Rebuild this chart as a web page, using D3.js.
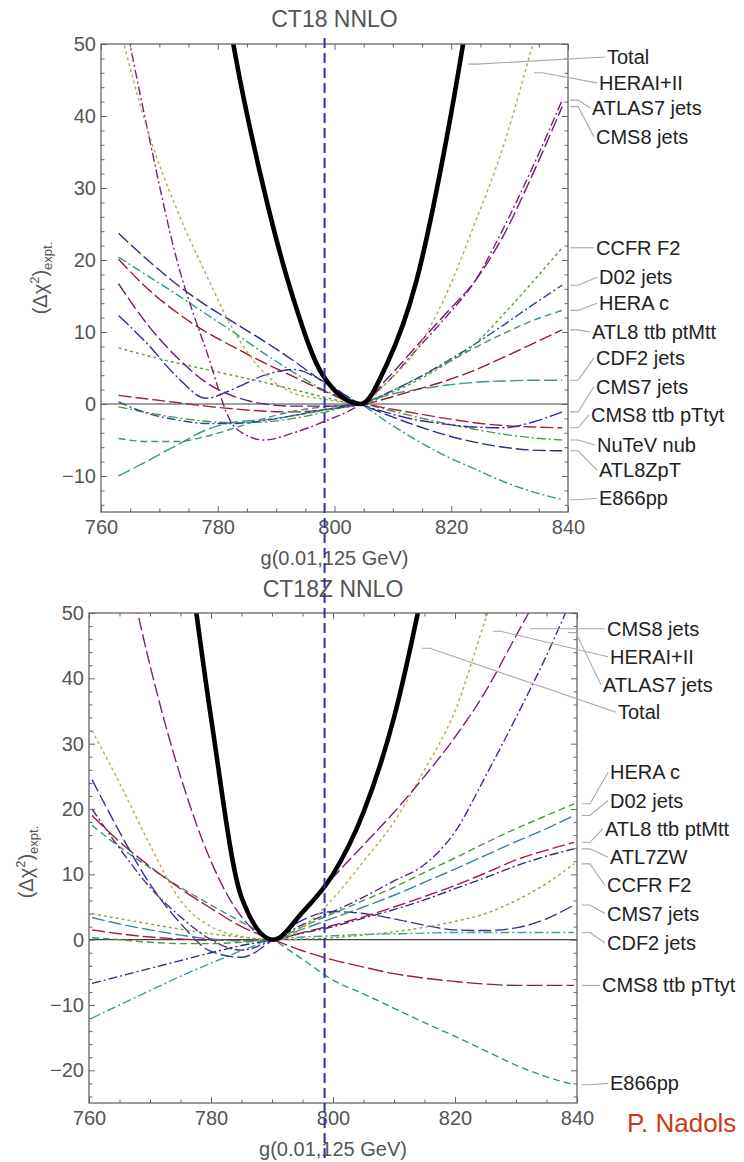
<!DOCTYPE html>
<html>
<head>
<meta charset="utf-8">
<script src="https://cdnjs.cloudflare.com/ajax/libs/d3/7.8.5/d3.min.js"></script>
<style>
  body { margin: 0; background: #fff; }
  svg { display: block; font-family: "Liberation Sans", Arial, sans-serif; }
</style>
</head>
<body>
<svg id="chart" width="744" height="1162"></svg>
<script>
// ---- data ----
const xTicks = [760, 780, 800, 820, 840];
const vLineX = 798.3;

// CT18 NNLO
const topGrid = [763, 768, 773, 778, 783, 788, 793, 798, 804.5, 809, 814, 819, 824, 829, 834, 839];
const topNames = ['Total', 'HERAI+II', 'ATLAS7 jets', 'CMS8 jets', 'CCFR F2', 'D02 jets', 'HERA c',
  'ATL8 ttb ptMtt', 'CDF2 jets', 'CMS7 jets', 'CMS8 ttb pTtyt', 'NuTeV nub', 'ATL8ZpT', 'E866pp'];
const topValues = [
  [180, 139, 104, 74, 48.5, 29.5, 14.5, 4, 0, 5.6, 17, 36, 60, 88, 118, 150],
  [53, 38, 27, 18, 9.8, 4.3, 1.5, 0.7, 0, 3, 7.5, 15, 25, 36, 50, 64],
  [58, 38, 20, 7.5, -3.3, -5, -4, -2.5, 0, 3, 7.5, 12, 17, 24.5, 33, 42.2],
  [16.7, 11, 6.5, 3, 1, 0, -0.3, -0.3, 0, 3.5, 8, 12.5, 17, 23.5, 32, 41.3],
  [7.8, 6.7, 5.7, 4.8, 3.9, 3, 2, 1, 0, 1.3, 3.2, 5.5, 8.3, 12.5, 17, 21.7],
  [0.3, -1.3, -2.2, -2.7, -2.7, -2.3, -1.6, -0.8, 0, 1.5, 3.5, 5.8, 8.3, 11, 13.8, 16.5],
  [-4.8, -5.2, -5.2, -4.5, -3.3, -2, -1, -0.4, 0, 1.5, 3.5, 5.6, 7.8, 9.8, 11.6, 13],
  [20.1, 16, 12.7, 10, 7.8, 5.7, 3.8, 1.9, 0, 0.8, 2, 3.2, 4.7, 6.5, 8.4, 10.3],
  [-10, -7.9, -5.7, -3.6, -2.5, -2.2, -1.6, -0.9, 0, 1.2, 2, 2.6, 3, 3.2, 3.3, 3.3],
  [12.3, 8.3, 3.8, 0.8, 2.2, 4, 4.8, 3.2, 0, -1.2, -2.2, -2.8, -3.2, -3.3, -2.5, -1.1],
  [1.2, 0.7, 0.2, -0.3, -0.7, -1, -1.1, -0.8, 0, -0.6, -1.3, -2, -2.6, -3, -3.2, -3.3],
  [-0.4, -1.2, -1.9, -2.4, -2.6, -2.5, -2, -1.2, 0, -0.8, -1.8, -2.7, -3.5, -4.2, -4.7, -5],
  [23.7, 20, 16.6, 13.7, 11.2, 8.7, 6, 3.1, 0, -1.5, -3, -4.3, -5.3, -6, -6.4, -6.5],
  [20.4, 17.8, 15.2, 12.5, 9.8, 7, 4.4, 2, 0, -2.5, -5, -7.2, -9, -10.8, -12.2, -13.3]
];

// CT18Z NNLO
const botGrid = [760.5, 765, 770, 775, 780, 785, 790.2, 795, 800, 805, 810, 815, 820, 825, 830, 835, 839.5];
const botNames = ['Total', 'CMS8 jets', 'HERAI+II', 'ATLAS7 jets', 'HERA c', 'D02 jets', 'ATL8 ttb ptMtt',
  'ATL7ZW', 'CCFR F2', 'CMS7 jets', 'CDF2 jets', 'CMS8 ttb pTtyt', 'E866pp'];
const botValues = [
  [165, 130, 100, 68, 34, 6.5, 0, 4.2, 10, 19.5, 34, 55, 80, 108, 138, 168, 195],
  [85, 63, 42, 25, 12, 3.5, 0, 4, 9.5, 14.5, 19.5, 25, 31, 38, 46.5, 55, 63],
  [32, 24, 14.5, 6, 2, 0.5, 0, 1.8, 6.3, 12, 18, 26, 35, 49, 62, 76, 90],
  [20, 14, 8, 3.5, 0, -1.6, 0, 2.3, 4.3, 6.5, 9, 11.5, 16.5, 25, 34, 43.5, 53],
  [0.3, 0, -0.4, -0.6, -0.6, -0.4, 0, 2, 4, 6, 8, 10.3, 12.5, 14.8, 17, 19, 20.8],
  [3.4, 2.4, 1.5, 0.7, 0.1, -0.2, 0, 1.6, 3.3, 5, 6.8, 8.8, 10.8, 12.9, 15, 17, 19],
  [1.5, 0.9, 0.4, 0.1, -0.1, -0.1, 0, 1.1, 2.2, 3.5, 5, 6.6, 8.3, 10.2, 12.2, 13.7, 14.9],
  [-6.7, -5.6, -4.4, -3.2, -2, -0.9, 0, 1, 2, 3.3, 4.6, 6.1, 7.8, 9.5, 11.3, 12.8, 13.9],
  [4, 3.2, 2.4, 1.6, 0.9, 0.4, 0, 0.1, 0.3, 0.7, 1.2, 1.9, 2.8, 4, 6, 8.6, 11.6],
  [24.5, 16.5, 8.5, 2.5, -1.8, -2.7, 0, 3, 4.3, 4, 3.2, 2.2, 1.5, 1.4, 1.8, 3.2, 5.3],
  [-12, -10, -7.8, -5.6, -3.6, -1.7, 0, 0.4, 0.6, 0.8, 0.9, 1, 1.1, 1.1, 1.1, 1.1, 1.1],
  [19, 15, 11.2, 7.8, 4.8, 2, 0, -1.7, -3.1, -4.2, -5.2, -5.9, -6.4, -6.8, -7, -7, -7],
  [17.5, 14.2, 11, 8, 5.3, 2.7, 0, -3, -6.2, -8.3, -10.5, -12.7, -14.8, -17, -19.2, -21, -22.2]
];

// ---- look: colour, dash, width per curve ----
const DOT = '3,3', DASH = '7,4', LONG = '13,4', DDOT = '9,3,2,3', LDDOT = '14,3,2,3';
const topStyle = {
  'Total': ['#000', null, 4.6],
  'HERAI+II': ['#b5ad4a', DOT, 1.4],
  'ATLAS7 jets': ['#7a2478', DDOT, 1.4],
  'CMS8 jets': ['#6b1f70', LONG, 1.4],
  'CCFR F2': ['#5a9a3c', DOT, 1.4],
  'D02 jets': ['#2f4590', DDOT, 1.4],
  'HERA c': ['#3a9475', DASH, 1.4],
  'ATL8 ttb ptMtt': ['#8e1d33', LONG, 1.4],
  'CDF2 jets': ['#3a9596', LONG, 1.4],
  'CMS7 jets': ['#3b2a8c', LDDOT, 1.4],
  'CMS8 ttb pTtyt': ['#a02244', LONG, 1.4],
  'NuTeV nub': ['#4c9a45', DDOT, 1.4],
  'ATL8ZpT': ['#2a2c86', LONG, 1.4],
  'E866pp': ['#2f9a8c', DDOT, 1.4]
};
const botStyle = {
  'Total': ['#000', null, 4.6],
  'CMS8 jets': ['#7a2478', LONG, 1.4],
  'HERAI+II': ['#b5ad4a', DOT, 1.4],
  'ATLAS7 jets': ['#5e2482', DDOT, 1.4],
  'HERA c': ['#459a3c', DASH, 1.4],
  'D02 jets': ['#3a85a0', LONG, 1.4],
  'ATL8 ttb ptMtt': ['#a02040', LONG, 1.4],
  'ATL7ZW': ['#2a2c86', DDOT, 1.4],
  'CCFR F2': ['#8aaa3c', DOT, 1.4],
  'CMS7 jets': ['#35349a', LONG, 1.4],
  'CDF2 jets': ['#3aa0a0', DDOT, 1.4],
  'CMS8 ttb pTtyt': ['#98203c', '16,4', 1.4],
  'E866pp': ['#30958a', DASH, 1.4]
};

// callouts: [label, anchor (data x,y) or null = end of curve, label y (data), label offset px]
const topCallouts = [
  ['Total', [822.9, 47.2], 48.2, 39], ['HERAI+II', [834.2, 46], 44.6, 31],
  ['ATLAS7 jets', null, 41.1, 24], ['CMS8 jets', null, 37.1, 28],
  ['CCFR F2', null, 21.7, 28], ['D02 jets', null, 17.6, 31], ['HERA c', null, 14, 31],
  ['ATL8 ttb ptMtt', null, 10, 24], ['CDF2 jets', null, 6.4, 28], ['CMS7 jets', null, 2.4, 28],
  ['CMS8 ttb pTtyt', null, -1.5, 23], ['NuTeV nub', null, -5.7, 29],
  ['ATL8ZpT', null, -9.2, 31], ['E866pp', null, -13.1, 31]
];
const botCallouts = [
  ['CMS8 jets', [832.3, 47.6], 47.6, 30], ['HERAI+II', [826.2, 47.2], 43.3, 33],
  ['ATLAS7 jets', [838.5, 47], 39, 26], ['Total', [814.6, 44.6], 34.8, 41],
  ['HERA c', null, 25.6, 33], ['D02 jets', null, 21.3, 33], ['ATL8 ttb ptMtt', null, 17, 28],
  ['ATL7ZW', null, 12.6, 33], ['CCFR F2', null, 8.3, 30], ['CMS7 jets', null, 4, 30],
  ['CDF2 jets', null, -0.5, 30], ['CMS8 ttb pTtyt', null, -7, 25], ['E866pp', null, -22, 33]
];

const svg = d3.select('#chart');
const GREY = '#555';

function drawPanel(p) {
  const g = svg.append('g');
  const x = d3.scaleLinear().domain([760, 840]).range([p.left, p.right]);
  const y = d3.scaleLinear().domain(p.yDomain).range([p.bottom, p.top]);

  svg.append('clipPath').attr('id', 'clip-' + p.id)
    .append('rect')
    .attr('x', p.left).attr('y', p.top)
    .attr('width', p.right - p.left).attr('height', p.bottom - p.top);

  // zero line
  g.append('line')
    .attr('x1', p.left).attr('x2', p.right)
    .attr('y1', y(0)).attr('y2', y(0))
    .attr('stroke', '#444').attr('stroke-width', 1.2);

  const line = d3.line()
    .x((d, i) => x(p.grid[i]))
    .y(d => y(d))
    .curve(d3.curveMonotoneX);

  const curves = g.append('g').attr('clip-path', 'url(#clip-' + p.id + ')');
  // draw the thin ones first so the Total sits on top
  const order = d3.range(p.names.length).reverse();
  curves.selectAll('path')
    .data(order)
    .enter()
    .append('path')
    .attr('d', i => line(p.values[i]))
    .attr('fill', 'none')
    .attr('stroke', i => p.style[p.names[i]][0])
    .attr('stroke-dasharray', i => p.style[p.names[i]][1])
    .attr('stroke-width', i => p.style[p.names[i]][2])
    .attr('stroke-linejoin', 'round');

  // frame + inward ticks on all four sides
  const xMinor = d3.range(765, 840, 5).filter(v => v % 20 !== 0);
  const yMajor = d3.range(p.yDomain[0] % 10 === 0 ? p.yDomain[0] : p.yDomain[0] + 5, p.yDomain[1] + 1, 10);
  const yMinor = d3.range(Math.ceil(p.yDomain[0] / 2) * 2, p.yDomain[1], 2).filter(v => v % 10 !== 0);
  const fmt = d3.format('d');

  function styleAxis(sel) {
    sel.select('.domain').remove();
    sel.selectAll('line').attr('stroke', '#666').attr('stroke-width', 1);
    sel.selectAll('text').attr('fill', GREY).style('font-size', '20px')
      .style('font-family', '"Liberation Sans", Arial, sans-serif');
  }

  const axes = [
    [d3.axisBottom(x).tickValues(xTicks).tickSize(-6).tickPadding(8).tickFormat(fmt), 0, p.bottom],
    [d3.axisBottom(x).tickValues(xMinor).tickSize(-3.5).tickFormat(''), 0, p.bottom],
    [d3.axisTop(x).tickValues(xTicks).tickSize(-6).tickFormat(''), 0, p.top],
    [d3.axisTop(x).tickValues(xMinor).tickSize(-3.5).tickFormat(''), 0, p.top],
    [d3.axisLeft(y).tickValues(yMajor).tickSize(-6).tickPadding(5).tickFormat(fmt), p.left, 0],
    [d3.axisLeft(y).tickValues(yMinor).tickSize(-3.5).tickFormat(''), p.left, 0],
    [d3.axisRight(y).tickValues(yMajor).tickSize(-6).tickFormat(''), p.right, 0],
    [d3.axisRight(y).tickValues(yMinor).tickSize(-3.5).tickFormat(''), p.right, 0]
  ];
  axes.forEach(a => {
    g.append('g').attr('transform', 'translate(' + a[1] + ',' + a[2] + ')').call(a[0]).call(styleAxis);
  });

  g.append('rect')
    .attr('x', p.left).attr('y', p.top)
    .attr('width', p.right - p.left).attr('height', p.bottom - p.top)
    .attr('fill', 'none').attr('stroke', '#666').attr('stroke-width', 1.3);

  // titles
  g.append('text')
    .attr('x', (p.left + p.right) / 2).attr('y', p.titleY)
    .attr('text-anchor', 'middle').attr('fill', GREY)
    .style('font-size', '23px')
    .text(p.title);

  g.append('text')
    .attr('x', (p.left + p.right) / 2).attr('y', p.bottom + 53)
    .attr('text-anchor', 'middle').attr('fill', GREY)
    .style('font-size', '20px')
    .text('g(0.01,125 GeV)');

  const yl = g.append('text')
    .attr('transform', 'translate(' + p.yLabelX + ',' + p.yLabelY + ') rotate(-90)')
    .attr('text-anchor', 'middle').attr('fill', GREY)
    .style('font-size', '20px');
  yl.append('tspan').text('(\u0394\u03c7');
  yl.append('tspan').attr('dy', -8).style('font-size', '13px').text('2');
  yl.append('tspan').attr('dy', 8).text(')');
  yl.append('tspan').attr('dy', 5).style('font-size', '13px').text('expt.');

  // callouts
  const co = g.append('g');
  p.callouts.forEach(c => {
    const i = p.names.indexOf(c[0]);
    const vals = p.values[i];
    const ax = c[1] ? x(c[1][0]) : x(p.grid[p.grid.length - 1]) + 8;
    const ay = c[1] ? y(c[1][1]) : y(vals[vals.length - 1]);
    const lx = p.right + c[3];
    const ly = y(c[2]);
    co.append('path')
      .attr('d', 'M' + ax + ',' + ay + 'L' + (ax + 8) + ',' + ay + 'L' + (lx - 2) + ',' + ly)
      .attr('fill', 'none').attr('stroke', '#a8a8a8').attr('stroke-width', 1.1);
    co.append('text')
      .attr('x', lx).attr('y', ly).attr('dy', '0.35em')
      .attr('fill', '#222').style('font-size', '20px')
      .text(c[0]);
  });

  return x;
}

const xTop = drawPanel({
  id: 'top', left: 101, right: 568, top: 44, bottom: 512, yDomain: [-15, 50],
  grid: topGrid, names: topNames, values: topValues, style: topStyle, callouts: topCallouts,
  title: 'CT18 NNLO', titleY: 27, yLabelX: 47, yLabelY: 278
});

drawPanel({
  id: 'bot', left: 89, right: 577, top: 613, bottom: 1103, yDomain: [-25, 50],
  grid: botGrid, names: botNames, values: botValues, style: botStyle, callouts: botCallouts,
  title: 'CT18Z NNLO', titleY: 597, yLabelX: 33, yLabelY: 862
});

// vertical dashed reference line across both panels
svg.append('line')
  .attr('x1', xTop(vLineX)).attr('x2', xTop(vLineX))
  .attr('y1', 38).attr('y2', 1162)
  .attr('stroke', '#2f2fb0').attr('stroke-width', 2)
  .attr('stroke-dasharray', '10,5');

// credit, as far as it shows in the picture
svg.append('text')
  .attr('x', 627).attr('y', 1132)
  .attr('fill', '#cc3a14').style('font-size', '26px')
  .text('P. Nadols');
</script>
</body>
</html>
